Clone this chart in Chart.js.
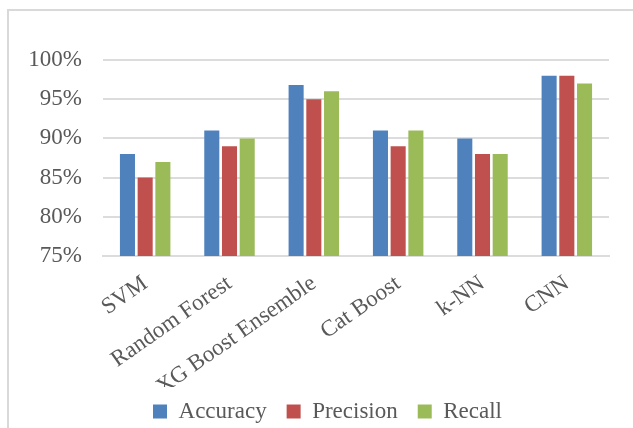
<!DOCTYPE html>
<html>
<head>
<meta charset="utf-8">
<script src="https://cdn.jsdelivr.net/npm/chart.js@4/dist/chart.umd.min.js"></script>
<style>
    html, body { margin: 0; padding: 0; background: #ffffff; }
    #frame {
        position: absolute; left: 7px; top: 9px; width: 626px; height: 419px;
        border-top: 2px solid #d9d9d9; border-left: 2px solid #d9d9d9; box-sizing: border-box;
    }
    #wrap { position: absolute; left: 0; top: 0; width: 633px; height: 428px; }
</style>
</head>
<body>
<div id="frame"></div>
<div id="wrap"><canvas id="metricsChart" width="633" height="428"></canvas></div>
<script>
const models = ['SVM', 'Random Forest', 'XG Boost Ensemble', 'Cat Boost', 'k-NN', 'CNN'];
const accuracy = [88, 91, 96.8, 91, 90, 98];
const precision = [85, 89, 95, 89, 88, 98];
const recall = [87, 90, 96, 91, 88, 97];
const yTicks = [75, 80, 85, 90, 95, 100];

const textColor = '#595959';
const serif = "'Liberation Serif', 'Times New Roman', serif";

// nudge the legend: original sits right of center and tucked under the labels
const shiftLegend = {
    id: 'shiftLegend',
    afterLayout(chart) {
        const lg = chart.legend;
        lg.left += 23;
        lg.right += 23;
        lg.top -= 7;
        lg.bottom -= 7;
    }
};

const ctx = document.getElementById('metricsChart').getContext('2d');
const chart = new Chart(ctx, {
    type: 'bar',
    data: {
        labels: models,
        datasets: [{
            label: 'Accuracy',
            data: accuracy,
            backgroundColor: '#4f81bd'
        }, {
            label: 'Precision',
            data: precision,
            backgroundColor: '#c0504d'
        }, {
            label: 'Recall',
            data: recall,
            backgroundColor: '#9bbb59'
        }]
    },
    options: {
        responsive: false,
        animation: false,
        layout: {
            padding: { top: 60, right: 24, left: 0, bottom: -12 }
        },
        datasets: {
            bar: {
                categoryPercentage: 0.63,
                barPercentage: 0.85
            }
        },
        scales: {
            y: {
                min: 75,
                max: 100,
                afterFit: s => { s.width = 103 },
                afterBuildTicks: s => { s.ticks = yTicks.map(v => ({ value: v })) },
                border: { display: false },
                grid: { color: '#dcdcdc', lineWidth: 2, drawTicks: false },
                ticks: {
                    color: textColor,
                    padding: 21,
                    font: { family: serif, size: 23 },
                    callback: v => v + '%'
                }
            },
            x: {
                afterFit: s => { s.height = 131 },
                border: { color: '#dcdcdc', width: 2 },
                grid: { display: false },
                ticks: {
                    color: textColor,
                    minRotation: 35,
                    maxRotation: 35,
                    padding: 6,
                    font: { family: serif, size: 23 }
                }
            }
        },
        plugins: {
            legend: {
                position: 'bottom',
                labels: {
                    color: textColor,
                    boxWidth: 14,
                    boxHeight: 14,
                    padding: 20,
                    font: { family: serif, size: 23 }
                }
            },
            tooltip: { enabled: false }
        }
    },
    plugins: [shiftLegend]
});
</script>
</body>
</html>
